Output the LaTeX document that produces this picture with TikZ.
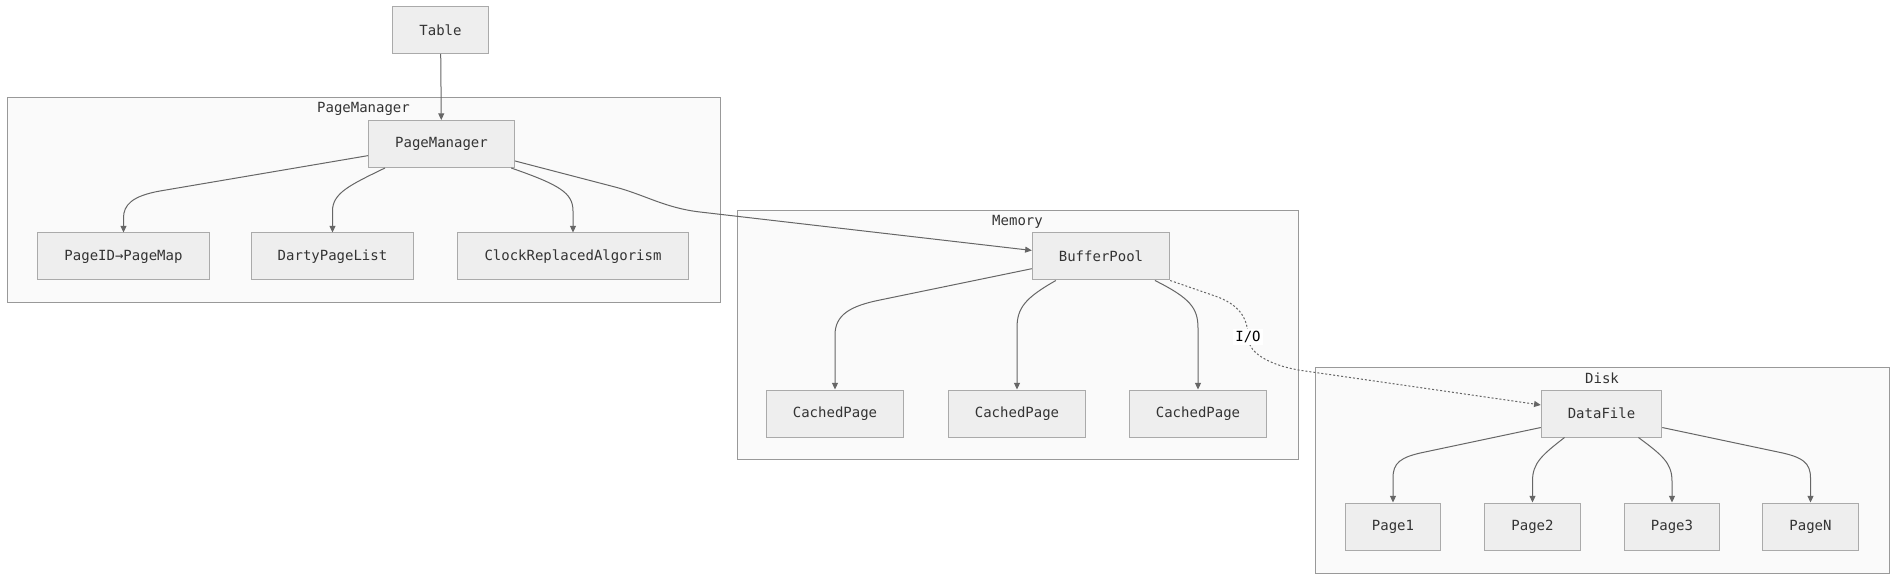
\documentclass[tikz,border=0pt]{standalone}
\usepackage{fontspec}
\setmainfont{DejaVu Sans Mono}
\usetikzlibrary{arrows.meta}

\definecolor{boxfill}{HTML}{EEEEEE}
\definecolor{boxline}{HTML}{AAAAAA}
\definecolor{grpfill}{HTML}{FAFAFA}
\definecolor{grpline}{HTML}{999999}
\definecolor{edgeline}{HTML}{666666}
\definecolor{txt}{HTML}{333333}

\begin{document}
\begin{tikzpicture}[x=0.75pt, y=0.75pt,
    >={Triangle[length=5pt,width=4.5pt]},
    box/.style={rectangle,
                draw=boxline,
                fill=boxfill,
                line width=0.75pt,
                text=txt,
                font=\fontsize{10.5pt}{12pt}\selectfont,
                inner xsep=19.9pt,      % side padding
                minimum height=35.25pt},
    cluster/.style={rectangle, draw=grpline, fill=grpfill, line width=0.75pt, inner sep=0pt},
    grplabel/.style={text=txt, font=\fontsize{10.5pt}{12pt}\selectfont, inner sep=0pt},
    edge/.style={->, draw=edgeline, line width=0.75pt},
    ioedge/.style={->, draw=edgeline, line width=0.75pt, dash pattern=on 1.5pt off 1.5pt},
    iolabel/.style={fill=white, text=black, font=\fontsize{10.5pt}{12pt}\selectfont, inner sep=1.5pt}]

  \useasboundingbox (0,0) rectangle (1904,583);

  % Groups in the background
  \node[cluster, minimum width=534.75pt, minimum height=153pt] (pmgrp) at (363.5,383) {};
  \node[grplabel] (pmgrplbl) at ([yshift=-8.6pt]pmgrp.north) {PageManager};
  \node[cluster, minimum width=420.75pt, minimum height=186pt] (memgrp) at (1017.5,248) {};
  \node[grplabel] (memgrplbl) at ([yshift=-8.6pt]memgrp.north) {Memory};
  \node[cluster, minimum width=430.5pt, minimum height=154.5pt] (diskgrp) at (1602,113) {};
  \node[grplabel] (diskgrplbl) at ([yshift=-8.6pt]diskgrp.north) {Disk};

  % Define nodes
  \node[box] (tbl) at (440.5,553) {Table};
  \node[box] (pm) at (441.5,439) {PageManager};
  \node[box] (pid) at (123.5,326.5) {PageID→PageMap};
  \node[box] (dpl) at (332.5,326.5) {DartyPageList};
  \node[box] (cra) at (573,326.5) {ClockReplacedAlgorism};
  \node[box] (bp) at (1101,326.5) {BufferPool};
  \node[box] (cp1) at (835,169.5) {CachedPage};
  \node[box] (cp2) at (1017,169.5) {CachedPage};
  \node[box] (cp3) at (1198,169.5) {CachedPage};
  \node[box] (df) at (1601.5,169.5) {DataFile};
  \node[box] (pg1) at (1393,56.5) {Page1};
  \node[box] (pg2) at (1532.5,56.5) {Page2};
  \node[box] (pg3) at (1672,56.5) {Page3};
  \node[box] (pgN) at (1810.5,56.5) {PageN};

  % Draw arrows
  \draw[edge] (tbl) -- (pm);
  \draw[edge] (pm.189) -- (160,392) .. controls (132,387) and (123.5,378) .. (123.5,365) -- (pid.north);
  \draw[edge] (pm.203) .. controls (350,398) and (332.5,390) .. (332.5,372) -- (dpl.north);
  \draw[edge] (pm.341) .. controls (560,398) and (573,390) .. (573,372) -- (cra.north);
  \draw[edge] (pm.347) -- (615,396) .. controls (644,388.5) and (665,375) .. (700,371) -- (bp.175);

  \draw[edge] (bp.190) -- (880,283) .. controls (850,277) and (835,268) .. (835,248) -- (cp1.north);
  \draw[edge] (bp.208) .. controls (1025,285) and (1017,275) .. (1017,255) -- (cp2.north);
  \draw[edge] (bp.336) .. controls (1190,285) and (1198,275) .. (1198,255) -- (cp3.north);
  \draw[ioedge] (bp.south east) -- (1215,287) .. controls (1238,279) and (1248,266) .. (1248,246)
        node[iolabel] (io) {I/O}
        .. controls (1248,228) and (1275,216) .. (1305,212) -- (df.172);

  \draw[edge] (df.193) -- (1425,131) .. controls (1400,126) and (1393,120) .. (1393,105) -- (pg1.north);
  \draw[edge] (df.213) .. controls (1542,128) and (1532.5,120) .. (1532.5,102) -- (pg2.north);
  \draw[edge] (df.327) .. controls (1662,128) and (1672,120) .. (1672,102) -- (pg3.north);
  \draw[edge] (df.347) -- (1778,131) .. controls (1803,126) and (1810.5,120) .. (1810.5,105) -- (pgN.north);

\end{tikzpicture}
\end{document}
